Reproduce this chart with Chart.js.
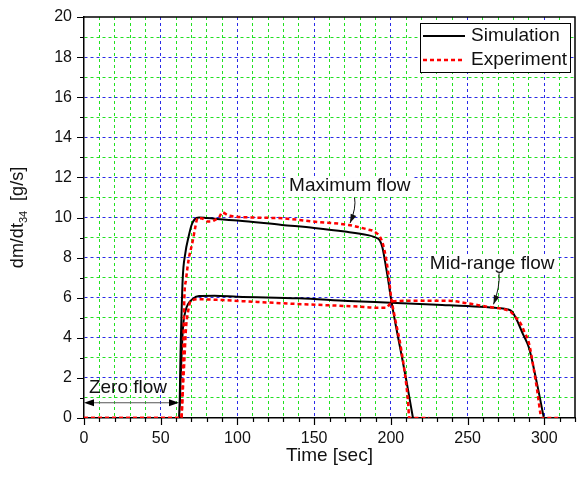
<!DOCTYPE html>
<html lang="en">
<head>
<meta charset="UTF-8">
<title>dm/dt34 vs time</title>
<script src="https://cdn.jsdelivr.net/npm/chart.js@4.4.1/dist/chart.umd.min.js"></script>
<style>
  html, body { margin: 0; padding: 0; background: #fff; }
  #wrap { width: 579px; height: 477px; }
</style>
</head>
<body>
<div id="wrap"><canvas id="flowChart" width="579" height="477"></canvas></div>
<script>
// Maximum flow case
const simMaxT = [0, 62, 63, 64.3, 66, 68.2, 70, 72, 75, 80, 100, 129, 150, 170, 185, 189.5, 192.8, 194.5, 196, 198, 200.4, 203.5, 206.8, 210.5, 214.4];
const simMaxV = [0, 0, 3.5, 6.9, 8.2, 9.05, 9.6, 9.9, 10.0, 9.97, 9.85, 9.63, 9.48, 9.3, 9.12, 9.02, 8.85, 8.5, 7.9, 7.0, 5.8, 4.5, 3.2, 1.7, 0];
const expMaxT = [0, 63.5, 64.5, 65.4, 66.5, 68.2, 70.8, 72.5, 74, 77, 80.5, 83, 86, 88, 90.2, 93.5, 98.9, 110, 129, 150.7, 172.3, 185, 189.5, 193.9, 196, 198.2, 200.2, 202.5, 206.8, 211.1, 212, 225];
const expMaxV = [0, 0, 2.5, 6.0, 6.9, 7.9, 8.8, 9.5, 9.96, 9.95, 9.8, 9.8, 9.91, 10.0, 10.26, 10.12, 10.04, 10.0, 9.96, 9.79, 9.63, 9.4, 9.29, 8.88, 8.3, 7.3, 6.0, 5.05, 3.39, 0.9, 0, 0];

// Mid-range flow case
const simMidT = [0, 62, 63, 64.5, 66, 68, 71, 75, 85, 100, 140, 172, 200, 230, 258, 270, 276, 279, 282, 286, 290, 295, 299.7];
const simMidV = [0, 0, 2.0, 4.5, 5.3, 5.7, 5.95, 6.08, 6.1, 6.05, 5.97, 5.84, 5.75, 5.65, 5.55, 5.48, 5.42, 5.3, 4.9, 4.2, 3.5, 1.8, 0];
const expMidT = [0, 63.3, 64.5, 65.5, 66.5, 67.6, 69.7, 75, 90, 110, 138, 160, 180, 190, 197, 199, 201, 215, 237, 250, 263, 272, 278, 281, 284.5, 287, 290, 293, 295.3, 297.5, 298, 309];
const expMidV = [0, 0, 1.5, 3.0, 4.5, 5.2, 5.85, 5.92, 5.88, 5.8, 5.69, 5.62, 5.55, 5.5, 5.5, 5.65, 5.82, 5.85, 5.85, 5.72, 5.55, 5.45, 5.3, 5.05, 4.72, 4.3, 3.73, 2.5, 1.4, 0.2, 0, 0];

const seriesNames = ['Simulation', 'Experiment'];
const xTitle = 'Time [sec]';
const labelNotes = [
  { text: 'Maximum flow', x: 173.2, y: 11.57, from: [176.3, 11.0], via: [177.6, 10.5], to: [173.4, 9.72] },
  { text: 'Mid-range flow', x: 266, y: 7.68, from: [270.5, 7.22], via: [271.2, 6.55], to: [266.9, 5.67] }
];
const zeroNote = { text: 'Zero flow', x: 3.2, y: 1.5, arrowY: 0.76, x0: 0, x1: 61.9 };

const FONT = "'Liberation Sans', Arial, sans-serif";
const BLUE = '#2a2ae8';
const GREEN = '#22e022';

const pts = (t, v) => t.map((x, i) => ({ x: x, y: v[i] }));

function gridColor(value, major, max) {
  if (value === 0 || value === max) return 'rgba(0,0,0,0)';
  return value % major === 0 ? BLUE : GREEN;
}

function arrowHead(ctx, x, y, ang, len, half) {
  ctx.beginPath();
  ctx.moveTo(x, y);
  ctx.lineTo(x - len * Math.cos(ang) + half * Math.sin(ang), y - len * Math.sin(ang) - half * Math.cos(ang));
  ctx.lineTo(x - len * Math.cos(ang) - half * Math.sin(ang), y - len * Math.sin(ang) + half * Math.cos(ang));
  ctx.closePath();
  ctx.fill();
}

// frame, tick marks, titles, legend and notes
const decor = {
  id: 'decor',
  afterDatasetsDraw(chart) {
    const ctx = chart.ctx, xs = chart.scales.x, ys = chart.scales.y;
    ctx.save();
    ctx.font = '19px ' + FONT;
    ctx.textAlign = 'center';
    ctx.textBaseline = 'middle';
    labelNotes.forEach(n => {
      const cx = xs.getPixelForValue(n.x), cy = ys.getPixelForValue(n.y);
      const w = ctx.measureText(n.text).width;
      ctx.fillStyle = '#fff';
      ctx.fillRect(cx - w / 2 - 2, cy - 9, w + 4, 18);
      ctx.fillStyle = '#111';
      ctx.fillText(n.text, cx, cy);
      const p0 = [xs.getPixelForValue(n.from[0]), ys.getPixelForValue(n.from[1])];
      const p1 = [xs.getPixelForValue(n.via[0]), ys.getPixelForValue(n.via[1])];
      const p2 = [xs.getPixelForValue(n.to[0]), ys.getPixelForValue(n.to[1])];
      ctx.strokeStyle = '#111';
      ctx.lineWidth = 1;
      ctx.beginPath();
      ctx.moveTo(p0[0], p0[1]);
      ctx.quadraticCurveTo(p1[0], p1[1], p2[0], p2[1]);
      ctx.stroke();
      arrowHead(ctx, p2[0], p2[1], Math.atan2(p2[1] - p1[1], p2[0] - p1[0]), 9, 3);
    });

    // zero flow span
    ctx.textAlign = 'left';
    ctx.fillStyle = '#111';
    ctx.fillText(zeroNote.text, xs.getPixelForValue(zeroNote.x), ys.getPixelForValue(zeroNote.y));
    const ay = ys.getPixelForValue(zeroNote.arrowY);
    const ax0 = xs.getPixelForValue(zeroNote.x0), ax1 = xs.getPixelForValue(zeroNote.x1);
    ctx.strokeStyle = '#555';
    ctx.lineWidth = 1.2;
    ctx.beginPath();
    ctx.moveTo(ax0 + 4, ay);
    ctx.lineTo(ax1 - 4, ay);
    ctx.stroke();
    ctx.fillStyle = '#000';
    arrowHead(ctx, ax1, ay, 0, 10, 3.5);
    arrowHead(ctx, ax0, ay, Math.PI, 10, 3.5);
    ctx.restore();
  },
  afterDraw(chart) {
    const ctx = chart.ctx, a = chart.chartArea, xs = chart.scales.x, ys = chart.scales.y;
    ctx.save();
    ctx.strokeStyle = '#000';
    ctx.lineWidth = 1.5;
    // top and right edges of the frame
    ctx.beginPath();
    ctx.moveTo(a.left, a.top);
    ctx.lineTo(a.right, a.top);
    ctx.lineTo(a.right, a.bottom);
    ctx.stroke();

    // outward tick marks, longer on labelled ticks
    ctx.lineWidth = 1.2;
    ctx.beginPath();
    xs.ticks.forEach(t => {
      const px = Math.round(xs.getPixelForValue(t.value)) + 0.5;
      const len = t.value % 50 === 0 ? 7 : 4;
      ctx.moveTo(px, a.bottom);
      ctx.lineTo(px, a.bottom + len);
    });
    ys.ticks.forEach(t => {
      const py = Math.round(ys.getPixelForValue(t.value)) + 0.5;
      const len = t.value % 2 === 0 ? 7 : 4;
      ctx.moveTo(a.left, py);
      ctx.lineTo(a.left - len, py);
    });
    ctx.stroke();

    // axis titles
    ctx.fillStyle = '#111';
    ctx.font = '19px ' + FONT;
    ctx.textAlign = 'center';
    ctx.textBaseline = 'middle';
    ctx.fillText(xTitle, (a.left + a.right) / 2, 456);

    ctx.save();
    ctx.translate(18, (a.top + a.bottom) / 2);
    ctx.rotate(-Math.PI / 2);
    ctx.textAlign = 'left';
    ctx.textBaseline = 'middle';
    const big = '18px ' + FONT, small = '11px ' + FONT;
    ctx.font = big;
    const w1 = ctx.measureText('dm/dt').width;
    const w3 = ctx.measureText('  [g/s]').width;
    ctx.font = small;
    const w2 = ctx.measureText('34').width;
    let x = -(w1 + w2 + w3) / 2;
    ctx.font = big;
    ctx.fillText('dm/dt', x, 0);
    x += w1;
    ctx.font = small;
    ctx.fillText('34', x, 6);
    x += w2;
    ctx.font = big;
    ctx.fillText('  [g/s]', x, 0);
    ctx.restore();

    // legend box
    const lx = a.right - 155, ly = a.top + 6, lw = 150, lh = 49;
    ctx.fillStyle = '#fff';
    ctx.fillRect(lx, ly, lw, lh);
    ctx.strokeStyle = '#000';
    ctx.lineWidth = 1;
    ctx.strokeRect(lx + 0.5, ly + 0.5, lw, lh);
    const legendDs = [chart.data.datasets[0], chart.data.datasets[1]];
    legendDs.forEach((ds, i) => {
      const yy = ly + 13 + i * 24;
      ctx.save();
      ctx.strokeStyle = ds.borderColor;
      ctx.lineWidth = ds.borderWidth;
      ctx.setLineDash(ds.borderDash || []);
      ctx.beginPath();
      ctx.moveTo(lx + 3, yy);
      ctx.lineTo(lx + 45, yy);
      ctx.stroke();
      ctx.restore();
      ctx.fillStyle = '#111';
      ctx.font = '19px ' + FONT;
      ctx.textAlign = 'left';
      ctx.fillText(seriesNames[i], lx + 51, yy);
    });
    ctx.restore();
  }
};

const simStyle = { borderColor: '#000', borderWidth: 2, pointRadius: 0, cubicInterpolationMode: 'monotone', order: 2 };
const expStyle = { borderColor: '#ff0000', borderWidth: 2.5, borderDash: [4, 3], pointRadius: 0, cubicInterpolationMode: 'monotone', order: 1 };

new Chart(document.getElementById('flowChart'), {
  type: 'line',
  data: {
    datasets: [
      Object.assign({ label: seriesNames[0], data: pts(simMaxT, simMaxV) }, simStyle),
      Object.assign({ label: seriesNames[1], data: pts(expMaxT, expMaxV) }, expStyle),
      Object.assign({ label: seriesNames[0] + ' mid', data: pts(simMidT, simMidV) }, simStyle),
      Object.assign({ label: seriesNames[1] + ' mid', data: pts(expMidT, expMidV) }, expStyle)
    ]
  },
  options: {
    responsive: false,
    animation: false,
    layout: { padding: { top: 17, right: 1, left: 0, bottom: 0 } },
    plugins: { legend: { display: false }, tooltip: { enabled: false } },
    scales: {
      x: {
        type: 'linear',
        min: 0,
        max: 320,
        afterFit(s) { s.height = 59; },
        ticks: {
          stepSize: 10,
          autoSkip: false,
          maxRotation: 0,
          padding: 4,
          color: '#111',
          font: { family: FONT, size: 16 },
          callback: v => (v % 50 === 0 ? String(v) : '')
        },
        grid: {
          color: c => gridColor(c.tick.value, 50, 320),
          lineWidth: 1,
          tickLength: 7,
          tickColor: 'rgba(0,0,0,0)'
        },
        border: { color: '#000', width: 1.5, dash: [3, 3] }
      },
      y: {
        min: 0,
        max: 20,
        afterFit(s) { s.width = 84; },
        ticks: {
          stepSize: 1,
          autoSkip: false,
          padding: 5,
          color: '#111',
          font: { family: FONT, size: 16 },
          callback: v => (v % 2 === 0 ? String(v) : '')
        },
        grid: {
          color: c => gridColor(c.tick.value, 2, 20),
          lineWidth: 1,
          tickLength: 7,
          tickColor: 'rgba(0,0,0,0)'
        },
        border: { color: '#000', width: 1.5, dash: [3, 3] }
      }
    }
  },
  plugins: [decor]
});
</script>
</body>
</html>
